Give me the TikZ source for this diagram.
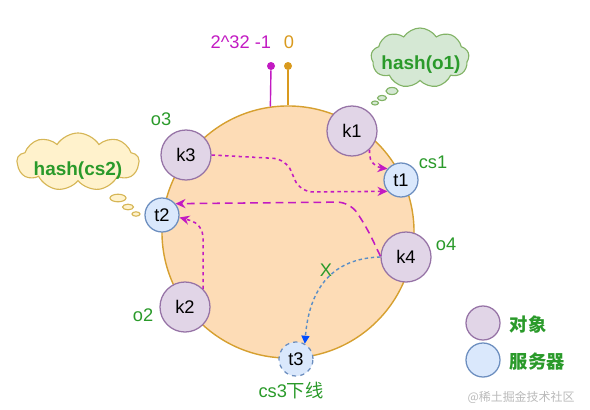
\documentclass[tikz,border=0pt]{standalone}
\usepackage{fontspec}
\setmainfont{Liberation Sans}
\newfontfamily\cjk{Noto Sans CJK SC}
\usetikzlibrary{arrows.meta,shapes.symbols}
\definecolor{ringfill}{HTML}{FDDCB6}
\definecolor{ringdraw}{HTML}{D6A030}
\definecolor{objfill}{HTML}{E1D5E7}
\definecolor{objdraw}{HTML}{9673A6}
\definecolor{srvfill}{HTML}{DAE8FC}
\definecolor{srvdraw}{HTML}{6C8EBF}
\definecolor{tgreen}{HTML}{2A9A2A}
\definecolor{tmag}{HTML}{C21AC2}
\definecolor{tgold}{HTML}{D99A1E}
\definecolor{tblue}{HTML}{5A8EC6}
\definecolor{gcloud}{HTML}{D5E8D4}
\definecolor{gcloudd}{HTML}{82B366}
\definecolor{ycloud}{HTML}{FFF2CC}
\definecolor{ycloudd}{HTML}{D6B656}

\begin{document}
\begin{tikzpicture}[x=0.025cm, y=-0.025cm,
    ring/.style={circle, draw=ringdraw, fill=ringfill, line width=1pt, minimum size=6.3cm, inner sep=0pt},
    obj/.style={circle, draw=objdraw, fill=objfill, line width=0.9pt, minimum size=1.25cm, inner sep=0pt, font=\fontsize{13}{15}\selectfont},
    srv/.style={circle, draw=srvdraw, fill=srvfill, line width=0.9pt, minimum size=0.85cm, inner sep=0pt, font=\fontsize{13}{15}\selectfont},
    lbl/.style={text=tgreen, font=\fontsize{13}{15}\selectfont},
    pindot/.style={circle, minimum size=0.2cm, inner sep=0pt},
    think/.style={cloud, cloud puffs=9, cloud puff arc=115, aspect=1.8, draw=#1, line width=0.8pt, inner sep=0pt},
    thinktext/.style={text=tgreen, font=\fontsize{13.5}{15}\selectfont\bfseries},
    bubble/.style={line width=0.8pt},
    marr/.style={-{Stealth[length=2.5mm, width=2.3mm]}, line width=1.1pt, color=tmag, dash pattern=on 2.4pt off 2.4pt, rounded corners=9pt},
    mdash/.style={marr, dash pattern=on 5.5pt off 3.5pt},
    barr/.style={-{Triangle[length=2mm, width=2mm, color=blue!70!cyan]}, line width=1pt, color=tblue, dash pattern=on 2.4pt off 2pt}
]
\useasboundingbox (0,0) rectangle (590,409);

% hash ring
\node[ring] (ring) at (288,232) {};

% 0 and 2^32-1 markers
\node[pindot, fill=tmag] (dmax) at (271,66) {};
\node[pindot, fill=tgold] (dzero) at (288,66) {};
\draw[tmag, line width=1pt] (dmax) -- (ring.98);
\draw[tgold, line width=1pt] (dzero) -- (ring.north);
\node[anchor=east, text=tmag, font=\fontsize{13}{15}\selectfont] (lmax) at (276,42) {2\textasciicircum 32 -1};
\node[text=tgold, font=\fontsize{13}{15}\selectfont] (lzero) at (289,42) {0};

% objects
\node[obj] (k1) at (352,131) {k1};
\node[obj] (k3) at (186,155) {k3};
\node[obj] (k4) at (406,257) {k4};
\node[obj] (k2) at (185,307) {k2};

% servers
\node[srv] (t1) at (401,180) {t1};
\node[srv] (t2) at (162,215) {t2};
\node[srv, dashed] (t3) at (296,359) {t3};

% labels
\node[lbl] (lo3) at (161,119) {o3};
\node[lbl] (lcs1) at (433,162) {cs1};
\node[lbl] (lo4) at (446,244) {o4};
\node[lbl] (lo2) at (143,315) {o2};
\node[lbl] (lcs3) at (291,391) {cs3{\cjk 下线}};

% thought clouds
\node[think=gcloudd, fill=gcloud, minimum width=2.45cm, minimum height=1.5cm] (c1) at (420,58) {};
\node[thinktext] (c1t) at (421,65) {hash(o1)};
\draw[bubble, draw=gcloudd, fill=gcloud] (392,91) ellipse (6 and 3.5);
\draw[bubble, draw=gcloudd, fill=gcloud] (382,98) ellipse (4.5 and 2.6);
\draw[bubble, draw=gcloudd, fill=gcloud] (375,103) ellipse (3.5 and 2);
\node[think=ycloudd, fill=ycloud, minimum width=3.05cm, minimum height=1.45cm] (c2) at (78,162) {};
\node[thinktext] (c2t) at (78,171) {hash(cs2)};
\draw[bubble, draw=ycloudd, fill=ycloud] (118,198) ellipse (8 and 3.8);
\draw[bubble, draw=ycloudd, fill=ycloud] (128,207) ellipse (5.5 and 2.8);
\draw[bubble, draw=ycloudd, fill=ycloud] (136,214) ellipse (4 and 2.2);

% mappings onto servers
\draw[marr] (k1.-47) -- ++(0,17) -- (t1.140);
\draw[marr] (k3.east) -- (286,159) -- (300,192) -- (t1.220);
\draw[mdash] (k4.178) -- (367,228) -- (350,202) -- (t2.40);
\draw[marr] (k2.45) -- (203,224) -- (t2.-8);

% cs3 offline: k4 falls through
\draw[barr] (k4.180) .. controls (340,258) and (310,280) .. (t3.60);
\node[lbl] (lx) at (326,270) {X};

% legend
\node[obj, minimum size=0.85cm] (legobj) at (483,323) {};
\node[text=tgreen, font=\fontsize{13}{15}\cjk\bfseries, anchor=west] (legobjt) at (505,325) {对象};
\node[srv] (legsrv) at (483,360) {};
\node[text=tgreen, font=\fontsize{13}{15}\cjk\bfseries, anchor=west] (legsrvt) at (505,362) {服务器};
\node[text=gray!55, font=\fontsize{8.5}{10}\cjk] (wm) at (521,397) {@稀土掘金技术社区};
\end{tikzpicture}
\end{document}
